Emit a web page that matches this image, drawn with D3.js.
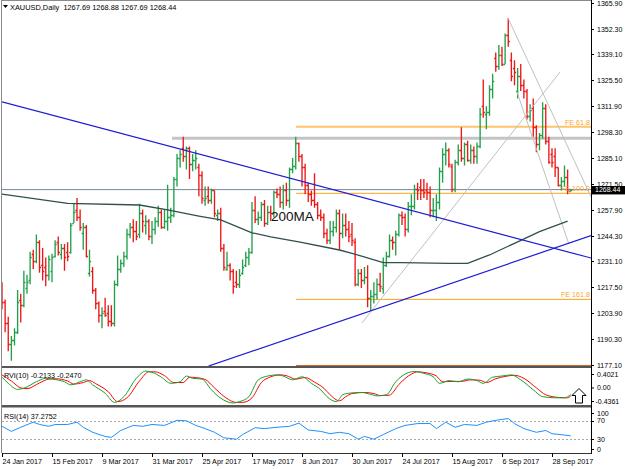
<!DOCTYPE html>
<html>
<head>
<meta charset="utf-8">
<script src="https://cdn.jsdelivr.net/npm/d3@7.9.0/dist/d3.min.js"></script>
<style>
  body { margin: 0; background: #fff; }
  svg { display: block; font-family: "Liberation Sans", Arial, sans-serif; }
</style>
</head>
<body>
<svg id="chart" width="625" height="469"></svg>
<script>
// daily bars, 24 Jan 2017 .. 6 Oct 2017 : [open, high, low, close]
const ohlc = [
  [1216,1220,1206,1210],[1210,1211,1194,1199],[1199,1202,1184,1188],[1188,1192,1179,1190],[1190,1196,1187,1194],
  [1194,1216,1193,1210],[1211,1214,1199,1208],[1208,1226,1207,1220],[1217,1224,1214,1220],[1221,1236,1219,1233],
  [1235,1237,1227,1231],[1231,1245,1230,1241],[1241,1242,1225,1228],[1229,1238,1221,1226],[1228,1233,1218,1224],
  [1224,1234,1221,1232],[1226,1235,1220,1233],[1234,1242,1233,1240],[1241,1244,1234,1236],[1235,1240,1232,1238],
  [1238,1240,1226,1233],[1236,1241,1231,1234],[1236,1251,1235,1250],[1251,1261,1251,1257],[1258,1264,1252,1254],
  [1254,1258,1247,1249],[1246,1251,1237,1249],[1249,1250,1233,1234],[1225,1237,1223,1231],[1226,1228,1214,1216],
  [1216,1217,1206,1209],[1209,1210,1199,1203],[1203,1207,1196,1204],[1205,1212,1202,1203],[1204,1208,1197,1200],
  [1200,1208,1197,1199],[1199,1221,1197,1219],[1219,1234,1218,1227],[1227,1232,1225,1230],[1230,1236,1228,1234],
  [1234,1248,1232,1245],[1245,1251,1243,1249],[1249,1253,1241,1247],[1247,1252,1242,1244],[1245,1261,1243,1256],
  [1256,1258,1246,1252],[1250,1255,1245,1252],[1252,1253,1242,1244],[1244,1252,1240,1248],[1248,1254,1245,1252],
  [1252,1260,1249,1257],[1257,1258,1248,1249],[1249,1258,1248,1252],[1252,1271,1247,1254],[1254,1259,1251,1255],
  [1255,1275,1254,1274],[1274,1287,1270,1285],[1285,1289,1280,1287],[1290,1296,1283,1286],[1286,1291,1279,1290],
  [1290,1291,1274,1282],[1282,1287,1278,1284],[1284,1289,1279,1285],[1280,1282,1265,1276],[1276,1278,1261,1264],
  [1263,1270,1260,1264],[1265,1270,1261,1263],[1263,1269,1261,1268],[1268,1268,1254,1256],[1255,1258,1252,1256],
  [1256,1259,1236,1238],[1238,1240,1226,1228],[1227,1236,1226,1229],[1229,1230,1221,1226],[1226,1227,1214,1218],
  [1220,1226,1217,1219],[1219,1227,1217,1224],[1225,1232,1224,1228],[1229,1236,1228,1233],[1233,1238,1229,1236],
  [1236,1262,1235,1258],[1258,1265,1251,1253],[1253,1257,1250,1254],[1254,1262,1252,1261],[1261,1263,1249,1251],
  [1251,1260,1250,1257],[1257,1260,1252,1256],[1256,1268,1254,1267],[1267,1269,1264,1266],[1266,1270,1259,1262],
  [1262,1271,1258,1268],[1268,1272,1260,1263],[1263,1280,1259,1279],[1279,1285,1277,1281],[1281,1296,1279,1293],
  [1293,1293,1283,1286],[1286,1287,1270,1280],[1280,1282,1266,1271],[1271,1272,1262,1266],[1266,1268,1260,1263],
  [1263,1277,1259,1261],[1261,1262,1253,1255],[1255,1258,1252,1254],[1254,1256,1243,1246],[1246,1248,1240,1242],
  [1242,1252,1240,1247],[1247,1252,1244,1249],[1249,1258,1246,1256],[1256,1258,1237,1246],[1246,1256,1243,1250],
  [1250,1256,1244,1248],[1248,1252,1241,1244],[1245,1251,1239,1242],[1241,1243,1218,1219],[1219,1227,1218,1225],
  [1225,1227,1217,1221],[1221,1228,1219,1223],[1223,1229,1207,1212],[1212,1216,1205,1213],[1213,1220,1209,1214],
  [1214,1222,1211,1219],[1219,1225,1215,1218],[1217,1233,1214,1229],[1229,1236,1228,1234],[1234,1245,1233,1242],
  [1242,1244,1237,1241],[1241,1247,1234,1245],[1245,1256,1244,1255],[1255,1257,1250,1254],[1254,1256,1244,1248],
  [1248,1262,1246,1260],[1260,1266,1255,1260],[1260,1271,1258,1269],[1269,1272,1263,1268],[1270,1274,1263,1268],
  [1268,1274,1264,1267],[1268,1272,1263,1267],[1267,1270,1254,1258],[1258,1264,1254,1258],[1258,1266,1252,1262],
  [1262,1280,1258,1278],[1278,1290,1272,1287],[1287,1293,1281,1289],[1289,1290,1280,1282],[1281,1282,1267,1269],
  [1269,1284,1267,1283],[1283,1292,1281,1289],[1289,1301,1283,1285],[1285,1293,1281,1292],[1292,1294,1283,1284],
  [1284,1292,1282,1289],[1289,1291,1282,1286],[1286,1293,1282,1291],[1291,1311,1290,1308],[1312,1326,1306,1309],
  [1308,1312,1300,1309],[1309,1323,1307,1321],[1321,1329,1316,1325],[1337,1340,1330,1333],[1333,1344,1331,1339],
  [1339,1343,1333,1334],[1334,1350,1334,1349],[1349,1358,1343,1346],[1336,1340,1325,1328],[1332,1336,1323,1330],
  [1320,1332,1316,1328],[1328,1334,1320,1323],[1323,1326,1316,1320],[1320,1321,1305,1307],[1307,1313,1304,1310],
  [1311,1316,1296,1301],[1301,1302,1288,1292],[1292,1298,1289,1297],[1297,1314,1295,1311],[1311,1313,1292,1294],
  [1294,1296,1282,1283],[1287,1290,1280,1283],[1286,1290,1275,1280],[1280,1280,1270,1271],[1271,1275,1268,1273],
  [1273,1281,1270,1275],[1275,1279,1266,1268],[1267.69,1268.88,1267.69,1268.44]
];

const dateTickIdx = [0, 16, 32, 48, 64, 80, 96, 112, 128, 144, 160, 176];
const dateLabels = ['24 Jan 2017','15 Feb 2017','9 Mar 2017','31 Mar 2017','25 Apr 2017','17 May 2017',
                    '8 Jun 2017','30 Jun 2017','24 Jul 2017','15 Aug 2017','6 Sep 2017','28 Sep 2017'];
const priceTicks = [1365.90,1352.30,1339.10,1325.50,1311.90,1298.30,1285.10,1271.50,
                    1257.90,1244.30,1231.10,1217.50,1203.90,1190.30,1177.10];
const bidPrice = 1268.44;

// 200 day moving average [bar index, price]
const ma200 = [[0,1266.1],[21,1261.3],[44,1260.4],[53,1257.8],[63,1254.6],[70,1252.6],[80,1245.9],
  [86,1243.8],[95,1241.2],[108,1236.9],[112,1235.2],[122,1230.3],[128,1230.3],[143,1229.9],
  [149,1229.9],[156,1234.3],[164,1240.4],[172,1246.5],[181,1252.0]];

// drawn objects [bar index, price]
const blueDown = [[0,1314.3],[188.5,1232.7]];
const blueUp = [[66.1,1176.3],[188.5,1244.4]];
const greyRise = [[115.2,1198.8],[178.6,1329.9]];
const greyFallOuter = [[161.9,1358.1],[188.5,1264.6]];
const greyFallInner = [[164.8,1319.4],[181.4,1240.0]];
const resistance = [[54.4,1295.2],[188.5,1295.2]];
const feLevels = [61.8, 100.0, 161.8, 200.0];
const fePrices = [1301.3, 1266.5, 1211.1, 1176.6];
const feStart = 94.1, chartEnd = 188.5;

// RVI(10) main and signal [bar index, value]
const rviMain = [[0,0.24],[2,0.08],[5,-0.08],[7,-0.05],[11,0.12],[14,0.21],[16,0.19],[20,0.12],[22,0.04],
  [25,0.12],[27,0.17],[29,0.04],[33,-0.18],[36,-0.42],[39,-0.27],[43,0.21],[46,0.40],[48,0.37],[51,0.24],
  [54,0.08],[57,0.12],[59,0.27],[61,0.21],[64,0.19],[67,-0.09],[70,-0.31],[74,-0.436],[76,-0.40],[79,-0.27],
  [82,0.17],[85,0.27],[88,0.30],[90,0.27],[93,0.17],[96,0.25],[99,0.08],[102,-0.09],[104,-0.27],[107,-0.40],
  [109,-0.22],[111,-0.18],[115,-0.16],[118,-0.21],[120,-0.25],[123,-0.22],[126,0.12],[130,0.36],[132,0.39],
  [135,0.34],[138,0.25],[140,0.08],[143,0.15],[146,0.12],[149,0.19],[152,0.15],[154,0.08],[157,0.24],
  [160,0.27],[163,0.30],[166,0.17],[170,-0.09],[173,-0.27],[177,-0.30],[180,-0.30],[182,-0.2133]];
const rviSignal = [[0,0.30],[3,0.14],[6,-0.04],[8,-0.06],[12,0.09],[15,0.19],[17,0.20],[21,0.14],[23,0.06],
  [26,0.10],[28,0.15],[30,0.07],[34,-0.14],[37,-0.40],[40,-0.30],[44,0.14],[47,0.38],[49,0.38],[52,0.28],
  [55,0.10],[58,0.10],[60,0.24],[62,0.23],[65,0.18],[68,-0.04],[71,-0.26],[75,-0.42],[77,-0.42],[80,-0.30],
  [83,0.10],[86,0.25],[89,0.30],[91,0.28],[94,0.19],[97,0.23],[100,0.11],[103,-0.05],[105,-0.22],[108,-0.38],
  [110,-0.27],[112,-0.19],[116,-0.16],[119,-0.19],[121,-0.24],[124,-0.23],[127,0.05],[131,0.32],[133,0.38],
  [136,0.35],[139,0.27],[141,0.12],[144,0.13],[147,0.13],[150,0.17],[153,0.16],[155,0.10],[158,0.20],
  [161,0.26],[164,0.29],[167,0.21],[171,-0.04],[174,-0.22],[178,-0.29],[181,-0.30],[182,-0.247]];
const rviTicks = [0.4021, 0.00, -0.4361];

// RSI(14) [bar index, value]
const rsi14 = [[0,58],[3,47],[6,56],[10,67],[12,62],[15,58],[17,62],[21,62],[24,67],[26,56],[29,45],[33,36],
  [35,34],[38,49],[42,60],[45,58],[48,62],[52,60],[56,71],[59,70],[62,60],[65,53],[68,45],[71,33],[75,30],
  [77,40],[81,55],[84,53],[88,56],[92,58],[95,65],[98,50],[102,47],[105,42],[108,45],[111,42],[114,30],
  [116,36],[119,30],[122,40],[126,53],[129,60],[133,64],[137,64],[139,53],[142,67],[145,56],[148,62],
  [152,60],[155,67],[158,71],[162,75],[164,64],[167,53],[171,45],[174,49],[176,42],[180,39],[182,37.28]];
const rsiLevels = [70, 30];
const rsiTicks = [100, 70, 30, 0];

const svg = d3.select('#chart');
const W = 625, axisX = 591;

const x = d3.scaleLinear().domain([0, 176]).range([2, 552]);
const y = d3.scaleLinear().domain([1177.1, 1365.9]).range([364.5, 3]);
const yRvi = d3.scaleLinear().domain([-0.4361, 0.4021]).range([403, 371]);
const yRsi = d3.scaleLinear().domain([0, 100]).range([453, 407]);

const defs = svg.append('defs');
defs.append('clipPath').attr('id', 'clipMain').append('rect').attr('x', 2).attr('y', 0).attr('width', axisX - 2).attr('height', 366);
defs.append('clipPath').attr('id', 'clipRvi').append('rect').attr('x', 2).attr('y', 368).attr('width', axisX - 2).attr('height', 37);
defs.append('clipPath').attr('id', 'clipRsi').append('rect').attr('x', 2).attr('y', 408).attr('width', axisX - 2).attr('height', 45);

const main = svg.append('g').attr('clip-path', 'url(#clipMain)');
const seg = (pts) => d3.line().x(d => x(d[0])).y(d => y(d[1]))(pts);

// background objects
main.append('path').attr('d', seg(resistance)).attr('stroke', '#c4c4c4').attr('stroke-width', 3).attr('fill', 'none');
feLevels.forEach((lv, k) => {
  main.append('path').attr('d', seg([[feStart, fePrices[k]], [chartEnd, fePrices[k]]]))
    .attr('stroke', k === 0 ? '#ffc46a' : (k === 3 ? '#c8641e' : '#ffa31a'))
    .attr('stroke-width', k === 0 ? 2 : 1).attr('fill', 'none');
});
main.append('path').attr('d', seg([[-1, bidPrice], [chartEnd, bidPrice]]))
  .attr('stroke', '#778899').attr('stroke-width', 1).attr('fill', 'none');

// OHLC bars
main.append('g').selectAll('path').data(ohlc).join('path')
  .attr('d', (d, i) => {
    const bx = x(i);
    const o = Math.round(y(d[0])) + 0.5, c = Math.round(y(d[3])) + 0.5;
    return `M${bx},${y(d[1])}V${y(d[2])}M${bx - 1.6},${o}H${bx}M${bx},${c}H${bx + 1.6}`;
  })
  .attr('stroke', d => d[3] >= d[0] ? '#22a04c' : '#ee1616')
  .attr('stroke-width', 1.35).attr('fill', 'none');

// foreground objects
[greyRise, greyFallOuter, greyFallInner].forEach(p => {
  main.append('path').attr('d', seg(p)).attr('stroke', '#c0c0c0').attr('stroke-width', 1).attr('fill', 'none');
});
main.append('path').attr('d', seg(ma200)).attr('stroke', '#2f4f4f').attr('stroke-width', 1.3).attr('fill', 'none');
[blueDown, blueUp].forEach(p => {
  main.append('path').attr('d', seg(p)).attr('stroke', '#1c1cd6').attr('stroke-width', 1.2).attr('fill', 'none');
});

// FE labels
feLevels.slice(0, 3).forEach((lv, k) => {
  main.append('text').attr('x', x(chartEnd) - 1).attr('y', y(fePrices[k]) - 2)
    .attr('text-anchor', 'end').attr('font-size', 7.2).attr('fill', '#ffa31a')
    .text('FE ' + lv.toFixed(1));
});

main.append('text').attr('x', x(86.1)).attr('y', y(1252.3)).attr('font-size', 13.5).attr('fill', '#111').text('200MA');

// header
svg.append('path').attr('d', 'M3,5H8L5.5,8Z').attr('fill', '#000');
svg.append('text').attr('x', 10).attr('y', 10).attr('font-size', 7.4).attr('fill', '#000')
  .style('white-space', 'pre').text('XAUUSD,Daily  1267.69 1268.88 1267.69 1268.44');

// RVI panel
const rviG = svg.append('g').attr('clip-path', 'url(#clipRvi)');
const lineRvi = d3.line().x(d => x(d[0])).y(d => yRvi(d[1])).curve(d3.curveMonotoneX);
rviG.append('path').attr('d', lineRvi(rviSignal)).attr('stroke', '#ff0000').attr('stroke-width', 1).attr('fill', 'none');
rviG.append('path').attr('d', lineRvi(rviMain)).attr('stroke', '#16a030').attr('stroke-width', 1).attr('fill', 'none');
svg.append('text').attr('x', 4).attr('y', 378).attr('font-size', 7.2).text('RVI(10) -0.2133 -0.2470');
svg.append('path').attr('d', 'M579,388.5L586,395.5H582.5V403H575.5V395.5H572Z')
  .attr('fill', '#fff').attr('stroke', '#000').attr('stroke-width', 1);

// RSI panel
const rsiG = svg.append('g').attr('clip-path', 'url(#clipRsi)');
rsiLevels.forEach(v => {
  rsiG.append('line').attr('x1', 2).attr('x2', axisX).attr('y1', Math.round(yRsi(v)) + 0.5).attr('y2', Math.round(yRsi(v)) + 0.5)
    .attr('stroke', '#a8a8a8').attr('stroke-dasharray', '2,2');
});
const lineRsi = d3.line().x(d => x(d[0])).y(d => yRsi(d[1]));
rsiG.append('path').attr('d', lineRsi(rsi14)).attr('stroke', '#1e90ff').attr('stroke-width', 1).attr('fill', 'none');
svg.append('text').attr('x', 4).attr('y', 419).attr('font-size', 7.2).text('RSI(14) 37.2752');

// frames
const frame = svg.append('g').attr('fill', 'none');
frame.append('line').attr('x1', 1.5).attr('x2', 1.5).attr('y1', 0).attr('y2', 453).attr('stroke', '#8a8a8a');
frame.append('rect').attr('x', 2).attr('y', 366).attr('width', axisX - 2).attr('height', 2).attr('fill', '#555');
frame.append('rect').attr('x', 2).attr('y', 405).attr('width', axisX - 2).attr('height', 2.5).attr('fill', '#555');
frame.append('line').attr('x1', 2).attr('x2', axisX).attr('y1', 453.5).attr('y2', 453.5).attr('stroke', '#333');
frame.append('line').attr('x1', 2).attr('x2', axisX).attr('y1', 0.5).attr('y2', 0.5).attr('stroke', '#8a8a8a');
frame.append('line').attr('x1', axisX + 0.5).attr('x2', axisX + 0.5).attr('y1', 0).attr('y2', 454).attr('stroke', '#000');

// right price axis
const ax = svg.append('g').attr('font-size', 7).attr('fill', '#000');
priceTicks.forEach(p => {
  const py = Math.round(y(p)) + 0.5;
  ax.append('line').attr('x1', axisX).attr('x2', axisX + 3).attr('y1', py).attr('y2', py).attr('stroke', '#000');
  ax.append('text').attr('x', 597).attr('y', py + 2).text(p.toFixed(2));
});
const bidY = y(bidPrice);
ax.append('rect').attr('x', axisX + 1).attr('y', bidY - 3.6).attr('width', W - axisX - 1).attr('height', 8.4).attr('fill', '#000');
ax.append('text').attr('x', 595).attr('y', bidY + 2.8).attr('fill', '#fff').text(bidPrice.toFixed(2));

// RVI axis
const rviLabelY = [374, 387.5, 401];
rviTicks.forEach((v, k) => {
  ax.append('line').attr('x1', axisX).attr('x2', axisX + 3).attr('y1', rviLabelY[k] + 0.5).attr('y2', rviLabelY[k] + 0.5).attr('stroke', '#000');
  ax.append('text').attr('x', v < 0 ? 595.5 : 597).attr('y', rviLabelY[k] + 2.5).text(v === 0 ? '0.00' : v.toFixed(4));
});
// RSI axis
const rsiLabelY = [413, yRsi(70), yRsi(30), 449];
rsiTicks.forEach((v, k) => {
  ax.append('line').attr('x1', axisX).attr('x2', axisX + 3).attr('y1', Math.round(rsiLabelY[k]) + 0.5).attr('y2', Math.round(rsiLabelY[k]) + 0.5).attr('stroke', '#000');
  ax.append('text').attr('x', 597).attr('y', rsiLabelY[k] + 2.5).text(v);
});

// date axis
dateTickIdx.forEach((i, k) => {
  const tx = Math.round(x(i)) + 0.5;
  ax.append('line').attr('x1', tx).attr('x2', tx).attr('y1', 453).attr('y2', 457).attr('stroke', '#000');
  ax.append('text').attr('x', tx).attr('y', 464).attr('font-size', 7.2).text(dateLabels[k]);
});
</script>
</body>
</html>
